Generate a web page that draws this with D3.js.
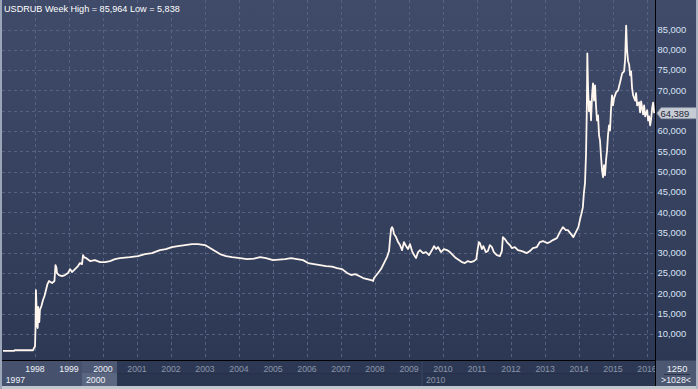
<!DOCTYPE html>
<html><head><meta charset="utf-8">
<script src="https://cdn.jsdelivr.net/npm/d3@7"></script>
<style>
html,body{margin:0;padding:0;background:#3a4661;overflow:hidden}
svg{display:block}
text{font-family:"Liberation Sans",Arial,sans-serif}
</style>
</head><body>
<svg id="c" width="698" height="389"></svg>
<script>
// ---------------- data ----------------
const symbol = "USDRUB";
const period = "Week";
const dates = [
"1997-01-22","1997-05-21","1997-05-26","1997-12-11","1997-12-21","1998-01-01","1998-01-06","1998-01-11","1998-01-17","1998-01-22",
"1998-01-30","1998-02-05","1998-02-16","1998-02-23","1998-03-11","1998-03-28","1998-04-13","1998-04-29","1998-05-15","1998-05-31",
"1998-07-03","1998-07-29","1998-08-09","1998-08-20","1998-08-25","1998-09-16","1998-10-18","1998-11-19","1998-12-21","1999-01-12",
"1999-02-02","1999-03-07","1999-04-08","1999-04-29","1999-05-21","1999-06-01","1999-06-11","1999-07-03","1999-08-15","1999-10-07",
"1999-11-30","2000-01-23","2000-03-17","2000-05-09","2000-07-02","2000-08-25","2000-10-17","2001-01-11","2001-03-27","2001-06-10",
"2001-09-04","2001-11-07","2002-01-11","2002-03-16","2002-05-31","2002-08-14","2002-10-18","2003-01-01","2003-02-24","2003-04-18",
"2003-06-11","2003-08-15","2003-10-18","2004-01-12","2004-03-27","2004-06-10","2004-08-14","2004-10-17","2005-01-01","2005-03-06",
"2005-05-10","2005-07-13","2005-09-15","2005-11-19","2006-01-13","2006-03-17","2006-05-21","2006-07-24","2006-09-27","2006-11-20",
"2007-01-13","2007-03-08","2007-04-20","2007-06-02","2007-07-15","2007-08-27","2007-10-09","2007-11-21","2007-12-12","2007-12-22",
"2008-02-03","2008-03-06","2008-04-07","2008-05-09","2008-05-31","2008-06-11","2008-06-22","2008-07-02","2008-07-13","2008-07-24",
"2008-08-14","2008-09-05","2008-09-26","2008-10-18","2008-11-08","2008-11-29","2008-12-20","2009-01-11","2009-02-02","2009-02-24",
"2009-03-17","2009-04-08","2009-04-29","2009-05-31","2009-07-02","2009-08-04","2009-09-05","2009-09-26","2009-10-18","2009-11-08",
"2009-12-10","2010-01-11","2010-02-12","2010-03-16","2010-04-17","2010-05-19","2010-06-20","2010-07-22","2010-08-24","2010-09-25",
"2010-10-27","2010-11-28","2010-12-25","2011-01-05","2011-01-21","2011-02-01","2011-02-22","2011-03-10","2011-04-06","2011-04-28",
"2011-05-19","2011-06-10","2011-07-01","2011-08-02","2011-09-03","2011-09-25","2011-10-06","2011-10-27","2011-11-18","2011-12-20",
"2012-01-10","2012-02-12","2012-03-15","2012-04-27","2012-06-20","2012-07-22","2012-08-23","2012-10-05","2012-11-06","2012-12-09",
"2013-01-21","2013-02-22","2013-03-26","2013-05-08","2013-06-09","2013-07-11","2013-08-12","2013-09-03","2013-10-16","2013-11-01",
"2013-12-09","2013-12-25","2014-01-10","2014-01-31","2014-02-11","2014-02-22","2014-03-06","2014-03-17","2014-03-25","2014-03-31",
"2014-04-08","2014-04-18","2014-04-29","2014-05-10","2014-05-21","2014-05-31","2014-06-11","2014-06-22","2014-07-02","2014-07-13",
"2014-07-24","2014-08-04","2014-08-14","2014-08-25","2014-09-05","2014-09-16","2014-09-26","2014-10-07","2014-10-18","2014-10-29",
"2014-11-08","2014-11-19","2014-11-30","2014-12-10","2014-12-21","2015-01-01","2015-01-12","2015-02-03","2015-02-24","2015-03-18",
"2015-04-09","2015-04-30","2015-05-11","2015-05-22","2015-06-01","2015-06-12","2015-06-23","2015-07-04","2015-07-14","2015-07-25",
"2015-08-05","2015-08-26","2015-09-06","2015-09-17","2015-10-08","2015-10-19","2015-10-30","2015-11-20","2015-12-01","2015-12-12",
"2016-01-03","2016-01-13","2016-01-24","2016-02-04","2016-02-14","2016-02-25","2016-03-07","2016-03-18"
];
const values = [
5838,5838,6000,6000,6560,6930,11000,20830,17140,12220,
11480,16650,12960,15910,16890,18370,19350,20830,22300,23040,
22550,23040,26980,26240,25010,24520,24270,24520,25010,25990,
25250,25990,26730,27470,27220,29430,28940,28700,27960,28200,
27710,27710,27960,28450,28700,28820,28940,29190,29680,29930,
30670,30920,31410,31650,31900,32150,32150,31900,31160,30430,
29690,29190,28950,28700,28460,28580,28950,28700,28200,28330,
28450,28700,28450,28200,27470,27220,26980,26730,26610,26240,
25990,25010,24520,24760,24270,23780,23530,23290,23040,23780,
25010,25990,27470,28940,30430,33380,35840,36330,35840,34610,
33870,32640,31900,30670,32640,31650,30920,32150,30430,29440,
28700,30180,30670,29930,30180,29440,30670,31650,30920,31410,
30180,30920,30670,30180,29440,28700,28210,27720,27470,27960,
27720,27960,28450,30430,32640,32400,30920,31650,30180,30430,
31900,31410,30180,29440,29190,30430,33870,33380,32640,31900,
31160,31410,30670,30430,29930,30430,31160,31410,32640,32890,
32400,32640,33130,33620,35100,36330,35590,35590,34360,33870,
35590,36330,38050,40020,41250,44690,47150,54280,64600,79110,
70500,64850,67310,62630,68780,71740,67510,71240,66290,62600,
63850,58940,57710,53770,50330,48610,51560,49100,52790,55250,
58940,61400,60170,65090,68780,66320,68040,69520,70010,72000,
74200,74700,77600,85964,79800,77200,76400,73700,74700,70500,
68800,67500,69300,66300,67100,64600,67300,64100,66300,63600,
65100,62600,63600,61400,62900,65600,67000,64389
];
const priceTicks = [10000,15000,20000,25000,30000,35000,40000,45000,50000,55000,60000,65000,70000,75000,80000,85000];
const yearLabels = ["1998","1999","2000","2001","2002","2003","2004","2005","2006","2007","2008","2009","2010","2011","2012","2013","2014","2015","2016"];
const eraLabels = ["1997","2000","2010"];
const eraStarts = ["1997-01-09","1999-05-21","2009-05-20"];
const highlightEnd = "2000-05-31";
const barCountLabel = "1250";
const visibleCountLabel = ">1028<";

// ---------------- drawing ----------------
const W = 698, H = 389;
const PR = 655, PB = 360, AB = 386;
const parse = d3.timeParse("%Y-%m-%d");
const data = dates.map((d, i) => ({date: parse(d), v: values[i]}));
const fmt = d3.format(",");

const x = d3.scaleTime().domain([new Date(1998,0,1), new Date(2016,0,1)]).range([35, 647]);
const y = d3.scaleLinear().domain([10000, 85000]).range([334, 29.5]);

const svg = d3.select("#c");
const defs = svg.append("defs");
const grad = defs.append("linearGradient").attr("id","bg")
  .attr("gradientUnits","userSpaceOnUse").attr("x1",0).attr("x2",0).attr("y1",0).attr("y2",PB);
grad.append("stop").attr("offset","0%").attr("stop-color","#3f4b69");
grad.append("stop").attr("offset","100%").attr("stop-color","#2d3954");
defs.append("clipPath").attr("id","plotClip").append("rect").attr("x",2).attr("y",0).attr("width",PR-2).attr("height",PB);
defs.append("clipPath").attr("id","axisClip").append("rect").attr("x",2).attr("y",PB).attr("width",PR-2).attr("height",AB-PB);

// backgrounds
svg.append("rect").attr("x",0).attr("y",0).attr("width",W).attr("height",PB).attr("fill","url(#bg)");
svg.append("rect").attr("x",0).attr("y",PB).attr("width",PR).attr("height",13).attr("fill","#2d3954");
svg.append("rect").attr("x",0).attr("y",PB+13).attr("width",PR).attr("height",AB-PB-13).attr("fill","#2a3650");
const hx0 = 2, hx1 = x(parse(eraStarts[1])), hx2 = x(parse(highlightEnd));
svg.append("rect").attr("x",hx0).attr("y",PB+1).attr("width",hx2-hx0).attr("height",AB-PB-1).attr("fill","#46516d");
svg.append("rect").attr("x",hx1).attr("y",PB+1).attr("width",hx2-hx1).attr("height",12).attr("fill","#4d5874");
svg.append("rect").attr("x",hx1).attr("y",PB+13).attr("width",hx2-hx1).attr("height",AB-PB-13).attr("fill","#5b6681");
svg.append("line").attr("x1",hx2).attr("x2",PR).attr("y1",PB+13.5).attr("y2",PB+13.5).attr("stroke","#26304a");
const sepX = x(parse(eraStarts[2]));
svg.append("line").attr("x1",sepX).attr("x2",sepX).attr("y1",PB+1).attr("y2",AB).attr("stroke","#3a4663");

// gridlines
const grid = svg.append("g").attr("clip-path","url(#plotClip)");
grid.selectAll(".hg").data(priceTicks).join("line")
  .attr("x1",2).attr("x2",PR).attr("y1",d=>Math.round(y(d))+0.5).attr("y2",d=>Math.round(y(d))+0.5)
  .attr("stroke","#56627f").attr("stroke-dasharray","3,3");
grid.selectAll(".vg").data(yearLabels).join("line")
  .attr("x1",d=>Math.round(x(new Date(+d,0,1)))+0.5).attr("x2",d=>Math.round(x(new Date(+d,0,1)))+0.5)
  .attr("y1",0).attr("y2",PB).attr("stroke","#56627f").attr("stroke-dasharray","3,3");

// price line
const line = d3.line().x(d=>x(d.date)).y(d=>y(d.v));
svg.append("g").attr("clip-path","url(#plotClip)").append("path").datum(data)
  .attr("d", line).attr("fill","none").attr("stroke","#fff6ef").attr("stroke-width",1.8)
  .attr("stroke-linejoin","round");

// title
const hi = d3.max(values), lo = d3.min(values);
svg.append("text").attr("x",4).attr("y",11.6).attr("fill","#ffffff").attr("font-size","9.1px")
  .text(`${symbol} ${period} High = ${fmt(hi)} Low = ${fmt(lo)}`);

// frame lines
svg.append("line").attr("x1",0).attr("x2",PR).attr("y1",PB+0.5).attr("y2",PB+0.5).attr("stroke","#000");
svg.append("line").attr("x1",PR+0.5).attr("x2",PR+0.5).attr("y1",0).attr("y2",AB).attr("stroke","#000");

// last value (needed to hide the tick label it covers)
const last = data[data.length-1];
const ly = y(last.v);

// y axis labels (right)
svg.append("g").selectAll("text").data(priceTicks.filter(d => Math.abs(y(d) - ly) > 9)).join("text")
  .attr("x",657.5).attr("y",d=>y(d)).attr("dy","0.36em").attr("fill","#d8e2f4").attr("font-size","9.4px")
  .text(d=>fmt(d));

// x axis labels
const xa = svg.append("g").attr("clip-path","url(#axisClip)");
const hlEnd = parse(highlightEnd);
xa.selectAll(".yl").data(yearLabels).join("text")
  .attr("x",d=>x(new Date(+d,0,1))).attr("y",371.8).attr("text-anchor","middle").attr("font-size","8.7px")
  .attr("fill",d=> new Date(+d,0,1) < hlEnd ? "#eef1f7" : "#8a94a8").text(d=>d);
xa.selectAll(".el").data(eraLabels).join("text")
  .attr("x",(d,i)=>x(parse(eraStarts[i]))+4).attr("y",383.3).attr("font-size","8.7px")
  .attr("fill",(d,i)=> parse(eraStarts[i]) < hlEnd ? "#eef1f7" : "#8a94a8").text(d=>d);

// bottom-right box
svg.append("rect").attr("x",PR+1).attr("y",PB+1).attr("width",W-PR-3).attr("height",AB-PB-1).attr("fill","#4c5772");
svg.append("text").attr("x",677).attr("y",371.6).attr("text-anchor","middle").attr("font-size","9.3px").attr("fill","#eef1f7").text(barCountLabel);
svg.append("line").attr("x1",664).attr("x2",690).attr("y1",374.5).attr("y2",374.5).attr("stroke","#2b3349");
svg.append("text").attr("x",676).attr("y",383.4).attr("text-anchor","middle").attr("font-size","8.8px").attr("fill","#eef1f7").text(visibleCountLabel);

// last value marker
svg.append("path")
  .attr("d",`M657,${ly} L661,${ly-5.5} L696.5,${ly-5.5} L696.5,${ly+5.5} L661,${ly+5.5} Z`)
  .attr("fill","#c6cbd4").attr("stroke","#8e97a8").attr("stroke-width",0.8);
svg.append("text").attr("x",660.5).attr("y",ly).attr("dy","0.36em").attr("font-size","9.4px").attr("fill","#1f2536").text(fmt(last.v));

// outer border
svg.append("rect").attr("x",0).attr("y",AB).attr("width",W).attr("height",H-AB).attr("fill","#c2c7cf");
svg.append("rect").attr("x",0).attr("y",0).attr("width",2).attr("height",H).attr("fill","#9aa5b8");
svg.append("rect").attr("x",W-2).attr("y",0).attr("width",2).attr("height",H).attr("fill","#aab2c1");
</script>
</body></html>
